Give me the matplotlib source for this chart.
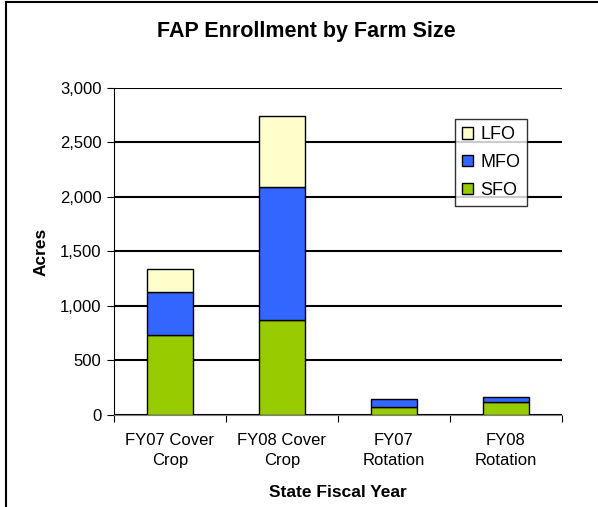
import matplotlib.pyplot as plt
import numpy as np

plt.rcParams['font.family'] = ['Liberation Sans', 'DejaVu Sans']

categories = ['FY07 Cover\nCrop', 'FY08 Cover\nCrop', 'FY07\nRotation', 'FY08\nRotation']
sfo = [735, 870, 70, 120]
mfo = [395, 1220, 80, 45]
lfo = [210, 650, 0, 0]

fig = plt.figure(figsize=(5.98, 5.07), dpi=100)
ax = fig.add_axes([0.1906, 0.1815, 0.749, 0.645])

x = np.arange(len(categories))
w = 0.41
sfo_a = np.array(sfo)
mfo_a = np.array(mfo)
lfo_a = np.array(lfo)
b1 = ax.bar(x, sfo_a, w, color='#99CC00', edgecolor='black', linewidth=1, zorder=3, label='SFO')
b2 = ax.bar(x, mfo_a, w, bottom=sfo_a, color='#3366FF', edgecolor='black', linewidth=1, zorder=3, label='MFO')
mask = lfo_a > 0
b3 = ax.bar(x[mask], lfo_a[mask], w, bottom=(sfo_a + mfo_a)[mask], color='#FFFFCC',
            edgecolor='black', linewidth=1, zorder=3, label='LFO')

ax.set_xlim(-0.5, len(categories) - 0.5)
ax.set_ylim(0, 3000)
ax.set_yticks(np.arange(0, 3001, 500))
ax.set_yticklabels(['{:,}'.format(v) for v in range(0, 3001, 500)])
ax.yaxis.grid(True, color='black', linewidth=1.5, zorder=0)
ax.set_axisbelow(True)

# category labels sit between the boundary ticks
ax.set_xticks(np.arange(-0.5, len(categories), 1.0))
ax.set_xticklabels([])
ax.set_xticks(x, minor=True)
ax.set_xticklabels(categories, minor=True, fontsize=12, linespacing=1.4)
ax.tick_params(axis='x', which='minor', length=0, pad=13)
ax.tick_params(axis='x', which='major', length=5, color='black', direction='out')
ax.tick_params(axis='y', length=5, color='black', labelsize=12, direction='out', pad=4)

for s in ['top', 'right']:
    ax.spines[s].set_visible(False)
ax.spines['left'].set_color('black')
ax.spines['bottom'].set_color('#808080')

ax.set_ylabel('Acres', fontsize=12.5, fontweight='bold', labelpad=8)
ax.set_xlabel('State Fiscal Year', fontsize=12.5, fontweight='bold', labelpad=12)
fig.text(306 / 598, 1 - 31 / 507, 'FAP Enrollment by Farm Size', ha='center', va='center',
         fontsize=15.5, fontweight='bold')

leg = ax.legend([b3, b2, b1], ['LFO', 'MFO', 'SFO'], loc='upper left',
                bbox_to_anchor=(0.761, 0.905), fontsize=13, frameon=True,
                fancybox=False, edgecolor='black', handlelength=0.6, handleheight=0.6,
                handletextpad=0.4, borderpad=0.4, labelspacing=0.6, borderaxespad=0)
leg.get_frame().set_linewidth(1)

# chart border, left and top edges
fig.add_artist(plt.Line2D([6 / 598, 6 / 598], [0, 1 - 2 / 507], transform=fig.transFigure,
                          color='black', linewidth=1.5))
fig.add_artist(plt.Line2D([6 / 598, 1], [1 - 2 / 507, 1 - 2 / 507], transform=fig.transFigure,
                          color='black', linewidth=1.5))

fig.savefig('out.png', dpi=100)
